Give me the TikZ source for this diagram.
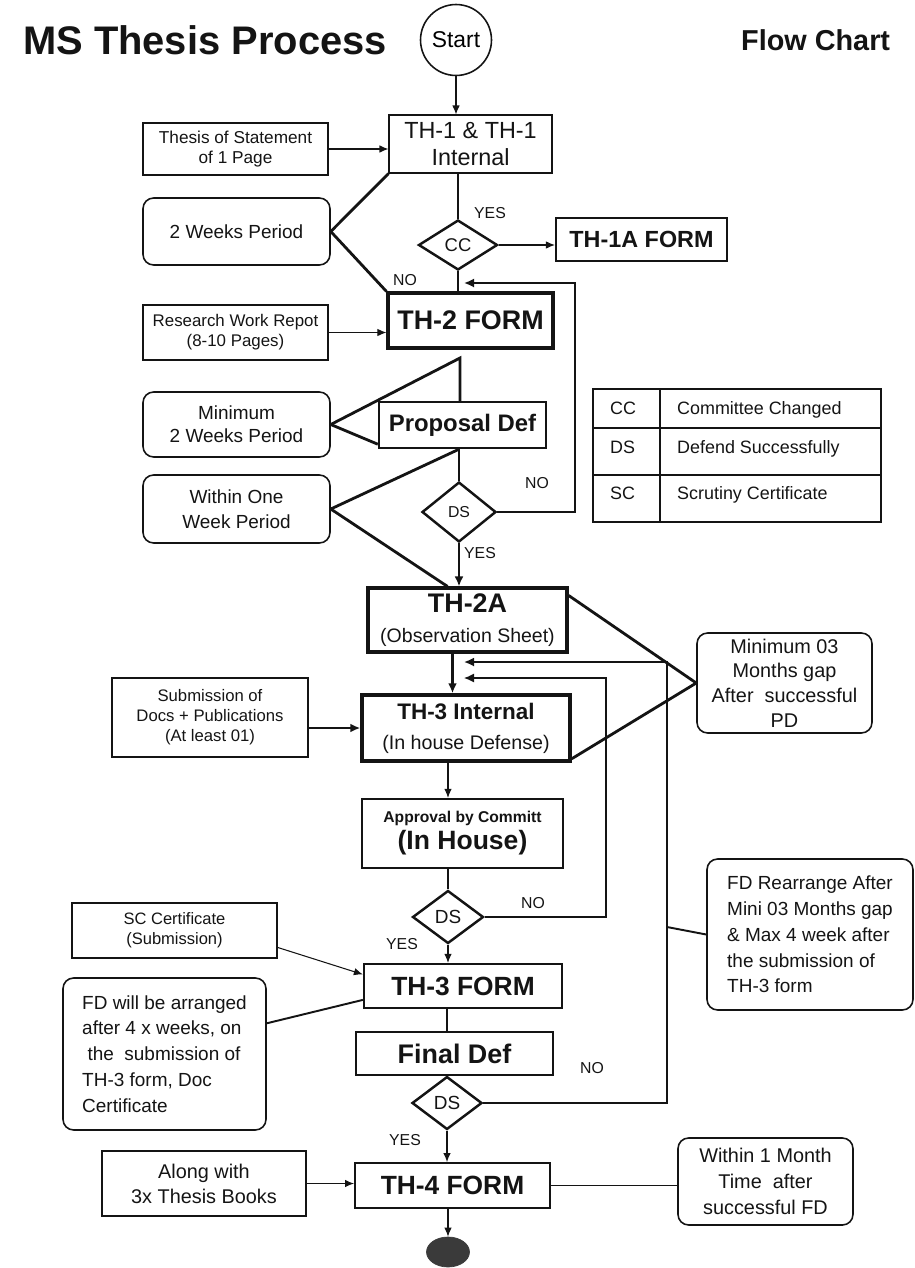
\documentclass[tikz,border=0pt]{standalone}
\usepackage{fontspec}
\setmainfont{Liberation Sans}
\usetikzlibrary{arrows.meta,calc,positioning,shapes.geometric}
\definecolor{fcink}{HTML}{141414}
\definecolor{fcend}{HTML}{3A3A3A}
\tikzset{
  formbox/.style={rectangle,draw=fcink,align=center,inner sep=1pt,text=fcink},
  sidebox/.style={rectangle,draw=fcink,line width=.9pt,align=center,inner sep=1pt,text=fcink},
  notebox/.style={rectangle,rounded corners=6pt,draw=fcink,line width=.9pt,inner sep=1pt,text=fcink},
  decision/.style={diamond,draw=fcink,line width=1.4pt,inner sep=0pt,text=fcink},
  lbl/.style={font=\fontsize{9}{10}\selectfont,text=fcink},
  tabtext/.style={anchor=base west,font=\fontsize{10.2}{12}\selectfont,text=fcink},
  wedge/.style={draw=fcink,line width=1.6pt},
  tieline/.style={draw=fcink,line width=1.1pt},
  flowthin/.style={-{Latex[length=1.8mm,width=1.5mm]},draw=fcink,line width=.6pt},
  flowthick/.style={-{Latex[length=2mm,width=1.8mm]},draw=fcink,line width=1.3pt},
  loopline/.style={-{Latex[length=2mm,width=1.8mm]},draw=fcink,line width=1pt},
  plain/.style={draw=fcink,line width=.6pt},
}
\begin{document}
\begin{tikzpicture}[x=0.02cm,y=-0.02cm]
  \useasboundingbox (0,0) rectangle (914,1268);
  \node[anchor=west,text=fcink,font=\bfseries\fontsize{22.7}{26}\selectfont] (title) at (17,40) {MS Thesis Process};
  \node[anchor=west,text=fcink,font=\bfseries\fontsize{16.4}{19}\selectfont] (chart) at (735,40) {Flow Chart};
  \node[circle,draw=fcink,line width=.9pt,minimum size=1.42cm,inner sep=0pt,font=\fontsize{13}{15}\selectfont] (start) at (456,40) {Start};

  \node[formbox,line width=.6pt,minimum width=3.26cm,minimum height=1.16cm,font=\fontsize{13.3}{15.9}\selectfont] (th1) at (470.5,144) {TH-1 \& TH-1\\Internal};
  \node[sidebox,minimum width=3.7cm,minimum height=1.04cm,font=\fontsize{9.8}{11.5}\selectfont] (stmt) at (235.5,149) {Thesis of Statement\\of 1 Page};
  \node[notebox,minimum width=3.74cm,minimum height=1.34cm,font=\fontsize{10.8}{13}\selectfont] (twoweeks) at (236.5,231.5) {2 Weeks Period};
  \node[decision,minimum width=1.58cm,minimum height=1cm,font=\fontsize{10.5}{12}\selectfont] (cc) at (458,245) {CC};
  \node[formbox,line width=1.2pt,minimum width=3.42cm,minimum height=.86cm,font=\bfseries\fontsize{13.3}{15}\selectfont] (th1a) at (641.5,239.5) {TH-1A FORM};
  \node[formbox,line width=1.8pt,minimum width=3.3cm,minimum height=1.1cm,font=\bfseries\fontsize{15.3}{17}\selectfont] (th2) at (470.5,320.5) {TH-2 FORM};
  \node[sidebox,minimum width=3.7cm,minimum height=1.1cm,font=\fontsize{9.6}{11.5}\selectfont] (research) at (235.5,332.5) {Research Work Repot\\(8-10 Pages)};
  \node[formbox,line width=1.4pt,minimum width=3.34cm,minimum height=.92cm,font=\bfseries\fontsize{13.6}{15}\selectfont] (propdef) at (462.5,425) {Proposal Def};
  \node[notebox,align=center,minimum width=3.74cm,minimum height=1.3cm,font=\fontsize{10.8}{13}\selectfont] (minweeks) at (236.5,424.5) {Minimum\\2 Weeks Period};
  \node[notebox,align=center,minimum width=3.74cm,minimum height=1.36cm,font=\fontsize{10.8}{14.2}\selectfont] (within) at (236.5,509) {Within One\\Week Period};
  \node[decision,minimum width=1.48cm,minimum height=1.2cm,font=\fontsize{9}{10}\selectfont] (ds1) at (459,512) {DS};
  \node[formbox,line width=1.8pt,minimum width=3.98cm,minimum height=1.28cm,font=\fontsize{11.1}{17}\selectfont] (th2a) at (467.5,620) {{\bfseries\fontsize{15.3}{17}\selectfont TH-2A}\\(Observation Sheet)};

  \draw[fcink,line width=1.1pt] (593,389) rectangle (881,522);
  \draw[plain] (593,428) -- (881,428) (593,475) -- (881,475) (660,389) -- (660,522);
  \foreach \ky/\vl/\yy [count=\i] in {CC/Committee Changed/414,DS/Defend Successfully/453,SC/Scrutiny Certificate/499}{
    \node[tabtext] (key\i) at (604,\yy) {\ky};
    \node[tabtext] (val\i) at (671,\yy) {\vl};
  }

  \node[notebox,align=center,minimum width=3.5cm,minimum height=2cm,font=\fontsize{11.3}{14}\selectfont] (minmonths) at (784.5,683) {Minimum 03\\Months gap\\After~ successful\\PD};
  \node[formbox,line width=2pt,minimum width=4.16cm,minimum height=1.32cm,font=\fontsize{11.2}{17}\selectfont] (th3i) at (466,728) {{\bfseries\fontsize{12.8}{17}\selectfont TH-3 Internal}\\(In house Defense)};
  \node[sidebox,minimum width=3.92cm,minimum height=1.58cm,font=\fontsize{9.5}{11.3}\selectfont] (submission) at (210,717.5) {Submission of\\Docs + Publications\\(At least 01)};
  \node[formbox,line width=1.3pt,minimum width=4.02cm,minimum height=1.38cm,font=\bfseries\fontsize{8.9}{15.3}\selectfont] (approval) at (462.5,833.5) {Approval by Committ\\{\fontsize{15.1}{15.3}\selectfont (In House)}};
  \node[decision,minimum width=1.42cm,minimum height=1.06cm,font=\fontsize{10.8}{12}\selectfont] (ds2) at (448,917) {DS};
  \node[sidebox,minimum width=4.1cm,minimum height=1.1cm,font=\fontsize{9.4}{11.3}\selectfont] (sccert) at (174.5,930.5) {SC Certificate\\(Submission)};
  \node[formbox,line width=1.3pt,minimum width=3.96cm,minimum height=.88cm,font=\bfseries\fontsize{15}{17}\selectfont] (th3f) at (463,986) {TH-3 FORM};
  \node[notebox,align=left,minimum width=4.06cm,minimum height=3.04cm,font=\fontsize{10.8}{14.7}\selectfont] (fdwill) at (164.5,1054) {FD will be arranged\\after 4 x weeks, on\\\ the\ \ submission of\\TH-3 form, Doc\\Certificate};
  \node[formbox,line width=1.1pt,minimum width=3.94cm,minimum height=.86cm,font=\bfseries\fontsize{15.3}{17}\selectfont] (finaldef) at (454.5,1053.5) {Final Def};
  \node[decision,minimum width=1.4cm,minimum height=1.06cm,font=\fontsize{10.8}{12}\selectfont] (ds3) at (447,1103) {DS};
  \node[formbox,line width=1.1pt,minimum width=3.9cm,minimum height=.9cm,font=\bfseries\fontsize{15}{17}\selectfont] (th4) at (452.5,1185.5) {TH-4 FORM};
  \node[sidebox,minimum width=4.08cm,minimum height=1.3cm,font=\fontsize{11.3}{14.2}\selectfont] (along) at (204,1183.5) {Along with\\3x Thesis Books};
  \node[ellipse,draw=fcend,fill=fcend,minimum width=.86cm,minimum height=.6cm,inner sep=0pt] (endnode) at (448,1252) {};
  \node[notebox,align=left,minimum width=4.12cm,minimum height=3.02cm,font=\fontsize{10.8}{14.7}\selectfont] (fdrearr) at (810,934.5) {FD Rearrange After\\Mini 03 Months gap\\\& Max 4 week after\\the submission of\\TH-3 form};
  \node[notebox,align=center,minimum width=3.5cm,minimum height=1.74cm,font=\fontsize{11.3}{14.7}\selectfont] (within1) at (765.5,1181.5) {Within 1 Month\\Time~ after\\successful FD};

  \coordinate (apex1) at (460,358);
  \coordinate (turn1) at (575,283);
  \coordinate (join1) at (464,283);
  \coordinate (turn2) at (606,678);
  \coordinate (join2) at (464,678);
  \coordinate (turn3) at (667,662);
  \coordinate (join3) at (464,662);
  \coordinate (tap3) at (667,927);

  \draw[flowthin] (start.south) -- (start.south |- th1.north);
  \draw[flowthin] (stmt.east) -- (stmt.east -| th1.west);
  \draw[wedge] (twoweeks.east) -- (th1.south west);
  \draw[wedge] (twoweeks.east) -- (th2.north west);
  \draw[wedge] (th1.south -| cc) -- (cc.north);
  \node[lbl] (yes1) at (490,213) {YES};
  \draw[flowthin] (cc.east) -- (cc.east -| th1a.west);
  \draw[plain] (cc.south) -- (cc.south |- th2.north);
  \node[lbl] (no1) at (405,280) {NO};
  \draw[flowthin] (research.east) -- (research.east -| th2.west);
  \draw[wedge] (minweeks.east) -- (apex1) -- (apex1 |- propdef.north);
  \draw[wedge] (minweeks.east) -- ([yshift=.1cm]propdef.south west);
  \draw[wedge] (propdef.south -| ds1) -- (ds1.north);
  \draw[wedge] (within.east) -- (propdef.south -| ds1);
  \draw[wedge] (within.east) -- ([xshift=-.4cm]th2a.north);
  \draw[loopline] (ds1.east) -| (turn1) -- (join1);
  \node[lbl] (no2) at (537,483) {NO};
  \draw[flowthick] (ds1.south) -- (ds1.south |- th2a.north);
  \node[lbl] (yes2) at (480,553) {YES};
  \draw[wedge] (minmonths.west) -- ([yshift=-.18cm]th2a.north east);
  \draw[wedge] (minmonths.west) -- ([yshift=.08cm]th3i.south east);
  \draw[flowthick] ([xshift=-.3cm]th2a.south) -- ([xshift=-.3cm]th2a.south |- th3i.north);
  \draw[flowthick] (submission.east |- th3i) -- (th3i.west);
  \draw[flowthin] (th3i.south -| ds2) -- (approval.north -| ds2);
  \draw[plain] (approval.south -| ds2) -- (ds2.north);
  \draw[loopline,line width=.7pt] (ds2.east) -| (turn2) -- (join2);
  \node[lbl] (no3) at (533,903) {NO};
  \node[lbl] (yes3) at (402,944) {YES};
  \draw[flowthin] (ds2.south) -- (ds2.south |- th3f.north);
  \draw[flowthin] ($(sccert.north east)!.8!(sccert.south east)$) -- ($(th3f.north west)!.25!(th3f.south west)$);
  \draw[tieline] ($(fdwill.north east)!.3!(fdwill.south east)$) -- ($(th3f.north west)!.8!(th3f.south west)$);
  \draw[plain] (th3f.south -| ds3) -- (finaldef.north -| ds3);
  \draw[loopline] (ds3.east) -| (turn3) -- (join3);
  \draw[tieline] (tap3) -- (fdrearr.west);
  \node[lbl] (no4) at (592,1068) {NO};
  \node[lbl] (yes4) at (405,1140) {YES};
  \draw[flowthin] (ds3.south) -- (ds3.south |- th4.north);
  \draw[flowthin] (along.east) -- (along.east -| th4.west);
  \draw[plain] (th4.east) -- (th4.east -| within1.west);
  \draw[flowthin] (th4.south -| endnode) -- (endnode.north);
\end{tikzpicture}
\end{document}
